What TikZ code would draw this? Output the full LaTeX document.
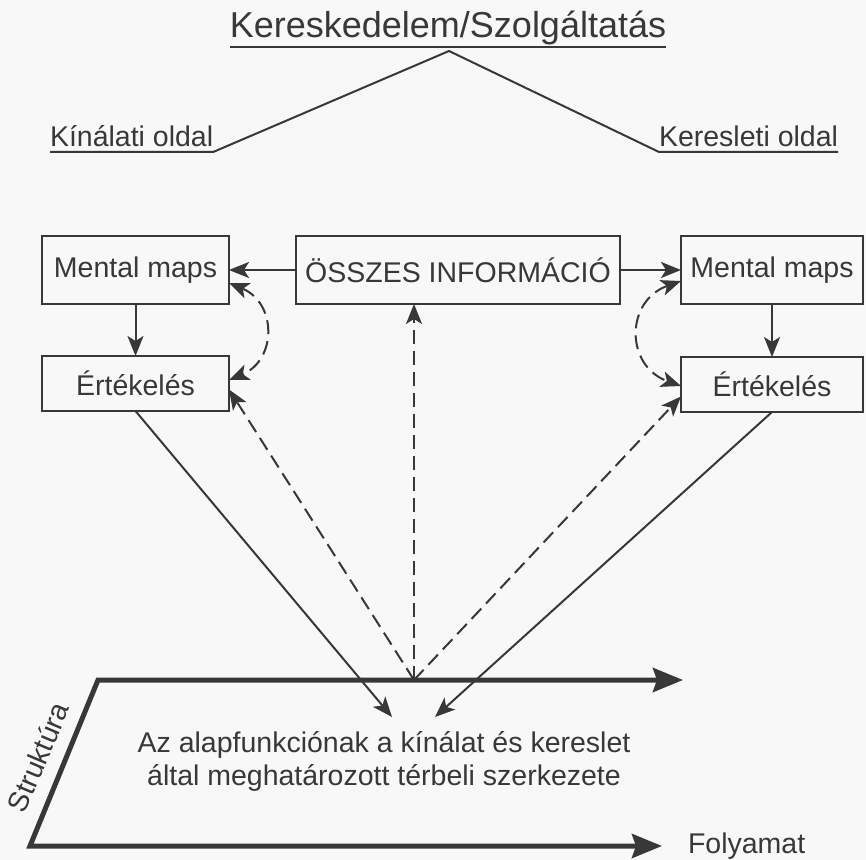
\documentclass[tikz,border=0pt]{standalone}
\usepackage{fontspec}
\setmainfont{Liberation Sans}
\usetikzlibrary{arrows.meta}
\definecolor{ink}{HTML}{383838}
\definecolor{paper}{HTML}{F8F8F8}

\begin{document}
\begin{tikzpicture}
[
x=0.5pt, y=-0.5pt,
every node/.style={text=ink, inner sep=0, outer sep=0},
txt/.style={font=\fontsize{14.25pt}{16.5pt}\selectfont},
infobox/.style={txt, draw=ink, line width=1pt, minimum height=34pt},
thintip/.tip={Stealth[length=10pt,width=8pt,inset=2.5pt]},
bigtip/.tip={Stealth[length=15pt,width=12pt,inset=2pt]},
thinline/.style={draw=ink, line width=1pt},
arr/.style={thinline, -thintip},
dasharr/.style={arr, dash pattern=on 7pt off 3.5pt},
axis/.style={draw=ink, line width=2.5pt, bigtip-bigtip}
]
\path[use as bounding box, fill=paper] (0,0) rectangle (866,860);

%Nodes
\node[font=\fontsize{18pt}{20pt}\selectfont, anchor=base] at(448,38)	(title) {Kereskedelem/Szolgáltatás};
\node[txt, anchor=base west] at(50,147)		(kin) {Kínálati oldal};
\node[txt, anchor=base west] at(659,147)	(ker) {Keresleti oldal};
\node[infobox, minimum width=93.5pt] at(135.5,270)		(mmL) {Mental maps};
\node[infobox, minimum width=93.5pt, minimum height=27.5pt] at(135.5,383.5)	(ertL) {Értékelés};
\node[infobox, minimum width=162pt] at(458,270)		(info) {ÖSSZES INFORMÁCIÓ};
\node[infobox, minimum width=91pt] at(772,270)		(mmR) {Mental maps};
\node[infobox, minimum width=91pt, minimum height=27.5pt] at(772,384.5)	(ertR) {Értékelés};
\node[txt, align=center] at(384,761)	(szerk) {Az alapfunkciónak a kínálat és kereslet\\által meghatározott térbeli szerkezete};
\node[txt, rotate=67] at(38,757)		(strukt) {Struktúra};
\node[txt, anchor=base west] at(688,853)	(foly) {Folyamat};

%Coordinates
\coordinate (peak) at(449,51);
\coordinate (hub) at(414,680);
\coordinate (upL) at(98,680);
\coordinate (upR) at(683,680);
\coordinate (loL) at(30,846);
\coordinate (loR) at(662,846);
\coordinate (tipL) at(392,717);
\coordinate (tipR) at(435,717);

%Lines
\draw[thinline] ([yshift=-4.5pt]title.base west) -- ([yshift=-4.5pt]title.base east);
\draw[thinline] ([yshift=-2.5pt]kin.base west) -- ([yshift=-2.5pt]kin.base east) -- (peak) -- ([yshift=-2.5pt]ker.base west) -- ([yshift=-2.5pt]ker.base east);

%Arrows
\draw[arr] (info) -- (mmL);
\draw[arr] (info) -- (mmR);
\draw[arr] (mmL) -- (ertL);
\draw[arr] (mmR) -- (ertR);
\draw[dasharr, thintip-thintip] ([yshift=10.5pt]mmL.south east) .. controls +(24pt,-10pt) and +(24pt,10pt) .. ([yshift=-12pt]ertL.north east);
\draw[dasharr, thintip-thintip] ([yshift=11.5pt]mmR.south west) .. controls +(-28pt,-10pt) and +(-28pt,10pt) .. ([yshift=-14.5pt]ertR.north west);
\draw[dasharr] (hub) -- ([yshift=-3pt]ertL.east);
\draw[dasharr] (hub) -- ([xshift=-22pt]info.south);
\draw[dasharr] (hub) -- ([yshift=-6pt]ertR.west);
\draw[arr] (ertL.south) -- (tipL);
\draw[arr] (ertR.south) -- (tipR);
\draw[axis] (upR) -- (upL) -- (loL) -- (loR);
\end{tikzpicture}
\end{document}
